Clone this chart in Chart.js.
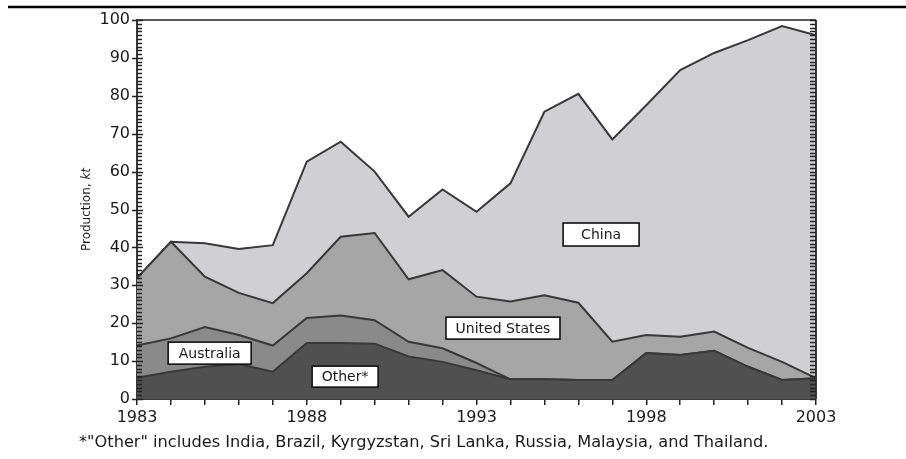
<!DOCTYPE html>
<html>
<head>
<meta charset="utf-8">
<script src="https://cdn.jsdelivr.net/npm/chart.js@4.4.1/dist/chart.umd.min.js"></script>
<style>
  html, body { margin: 0; padding: 0; background: #fff; }
  canvas { display: block; }
</style>
</head>
<body>
<canvas id="chart" width="906" height="459"></canvas>
<script>
// production by source, kt
const years = ["1983", "1984", "1985", "1986", "1987", "1988", "1989", "1990", "1991", "1992",
  "1993", "1994", "1995", "1996", "1997", "1998", "1999", "2000", "2001", "2002", "2003"];
const otherVals = [5.6, 7.2, 8.5, 9.2, 7.2, 14.8, 14.8, 14.6, 11.2, 9.8, 7.6, 5.2, 5.2, 5.0, 5.0, 12.1, 11.6, 12.7, 8.5, 5.0, 5.5];
const australiaVals = [8.5, 8.8, 10.5, 7.7, 6.9, 6.6, 7.2, 6.2, 3.9, 3.6, 1.9, 0, 0, 0, 0, 0, 0, 0, 0, 0, 0];
const usVals = [17.8, 25.5, 13.3, 11.1, 11.2, 11.8, 20.8, 23.0, 16.5, 20.6, 17.5, 20.5, 22.2, 20.4, 10.1, 4.8, 4.8, 5.1, 5.0, 4.8, 0];
const chinaVals = [0, 0, 8.8, 11.6, 15.3, 29.4, 25.1, 16.2, 16.5, 21.3, 22.4, 31.2, 48.4, 55.1, 53.4, 60.6, 70.4, 73.5, 81.2, 88.6, 90.5];

const xTickLabels = ["1983", "1988", "1993", "1998", "2003"];
const yTickValues = [0, 10, 20, 30, 40, 50, 60, 70, 80, 90, 100];

const footnote = "*\"Other\" includes India, Brazil, Kyrgyzstan, Sri Lanka, Russia, Malaysia, and Thailand.";

// boxed labels, placed in data units (x = year index, y = kt)
const areaLabels = [
  { text: "Australia", x: 2.14, y: 12.1, w: 83, h: 22 },
  { text: "Other*", x: 6.13, y: 5.9, w: 66, h: 21 },
  { text: "United States", x: 10.78, y: 18.7, w: 114, h: 22 },
  { text: "China", x: 13.67, y: 43.4, w: 76, h: 23 }
];

const LINE = "#383838";
const FONT = "'DejaVu Sans'";

// pick a font size so the text spans the wanted width
function fitFont(ctx, text, width, base) {
  ctx.font = base + "px " + FONT;
  const w = ctx.measureText(text).width;
  return Math.round(base * width / w * 10) / 10;
}

const decorations = {
  id: "decorations",
  beforeDraw(chart) {
    const ctx = chart.ctx;
    ctx.save();
    ctx.fillStyle = "#fff";
    ctx.fillRect(0, 0, chart.width, chart.height);
    ctx.restore();
  },
  afterDatasetsDraw(chart) {
    const ctx = chart.ctx;
    const area = chart.chartArea;
    const x = chart.scales.x, y = chart.scales.y;
    ctx.save();

    // frame top + right
    ctx.strokeStyle = "#5a5a5a";
    ctx.lineWidth = 2;
    ctx.beginPath();
    ctx.moveTo(area.left, area.top);
    ctx.lineTo(area.right, area.top);
    ctx.stroke();
    ctx.strokeStyle = LINE;
    ctx.beginPath();
    ctx.moveTo(area.right, area.top);
    ctx.lineTo(area.right, area.bottom);
    ctx.stroke();

    // minor / major ticks on both y sides
    ctx.lineWidth = 1.3;
    ctx.strokeStyle = "#222";
    for (let v = 0; v <= 100; v++) {
      const py = Math.round(y.getPixelForValue(v)) + 0.5;
      const major = v % 10 === 0;
      ctx.beginPath();
      ctx.moveTo(area.left - (major ? 5 : 0), py);
      ctx.lineTo(area.left + (major ? 6 : 5), py);
      ctx.moveTo(area.right - 6, py);
      ctx.lineTo(area.right, py);
      ctx.stroke();
    }

    // boxed area labels
    ctx.font = "14px " + FONT;
    ctx.textAlign = "center";
    ctx.textBaseline = "middle";
    areaLabels.forEach(l => {
      const cx = x.getPixelForValue(l.x);
      const cy = y.getPixelForValue(l.y);
      ctx.fillStyle = "#fff";
      ctx.fillRect(cx - l.w / 2, cy - l.h / 2, l.w, l.h);
      ctx.strokeStyle = "#111";
      ctx.lineWidth = 1.6;
      ctx.strokeRect(cx - l.w / 2, cy - l.h / 2, l.w, l.h);
      ctx.fillStyle = "#1a1a1a";
      ctx.fillText(l.text, cx, cy + 1);
    });

    // y axis title
    ctx.save();
    ctx.translate(87, (area.top + area.bottom) / 2);
    ctx.rotate(-Math.PI / 2);
    ctx.fillStyle = "#1a1a1a";
    ctx.textBaseline = "middle";
    ctx.textAlign = "left";
    const p1 = "Production, ";
    ctx.font = "italic 12px " + FONT;
    const w2 = ctx.measureText("kt").width;
    ctx.font = "12px " + FONT;
    const w1 = ctx.measureText(p1).width;
    const start = -(w1 + w2) / 2;
    ctx.fillText(p1, start, 0);
    ctx.font = "italic 12px " + FONT;
    ctx.fillText("kt", start + w1, 0);
    ctx.restore();

    // top rule
    ctx.strokeStyle = "#000";
    ctx.lineWidth = 2.5;
    ctx.beginPath();
    ctx.moveTo(8, 7);
    ctx.lineTo(chart.width, 7);
    ctx.stroke();

    // footnote
    const fs = fitFont(ctx, footnote, 688, 14);
    ctx.fillStyle = "#1a1a1a";
    ctx.textAlign = "left";
    ctx.textBaseline = "middle";
    ctx.font = fs + "px " + FONT;
    ctx.fillText(footnote, 79, 443);

    ctx.restore();
  }
};

function areaSet(label, data, color, fill) {
  return {
    label: label,
    data: data,
    backgroundColor: color,
    borderColor: LINE,
    borderWidth: 2,
    fill: fill,
    tension: 0,
    pointRadius: 0
  };
}

const ctx = document.getElementById("chart").getContext("2d");
new Chart(ctx, {
  type: "line",
  data: {
    labels: years,
    datasets: [
      areaSet("Other*", otherVals, "#505050", "origin"),
      areaSet("Australia", australiaVals, "#8a8a8a", "-1"),
      areaSet("United States", usVals, "#a6a6a6", "-1"),
      areaSet("China", chinaVals, "#d0d0d2", "-1")
    ]
  },
  options: {
    responsive: false,
    animation: false,
    layout: { padding: { top: 20, right: 90, bottom: 0, left: 0 } },
    plugins: {
      legend: { display: false },
      tooltip: { enabled: false }
    },
    scales: {
      x: {
        offset: false,
        afterFit: s => { s.height = 60; },
        grid: { drawOnChartArea: false, drawTicks: true, tickLength: 6, color: "#222", lineWidth: 1.5 },
        border: { display: true, color: LINE, width: 2 },
        ticks: {
          autoSkip: false,
          maxRotation: 0,
          padding: 3,
          color: "#1a1a1a",
          font: { family: "DejaVu Sans", size: 16 },
          callback: function (val) {
            const lab = this.getLabelForValue(val);
            return xTickLabels.includes(lab) ? lab : "";
          }
        }
      },
      y: {
        stacked: true,
        min: 0,
        max: 100,
        afterFit: s => { s.width = 137; },
        afterBuildTicks: s => { s.ticks = yTickValues.map(v => ({ value: v })); },
        grid: { display: false, drawTicks: false },
        border: { display: true, color: LINE, width: 2 },
        ticks: {
          padding: 7,
          color: "#1a1a1a",
          font: { family: "DejaVu Sans", size: 16 }
        }
      }
    }
  },
  plugins: [decorations]
});
</script>
</body>
</html>
